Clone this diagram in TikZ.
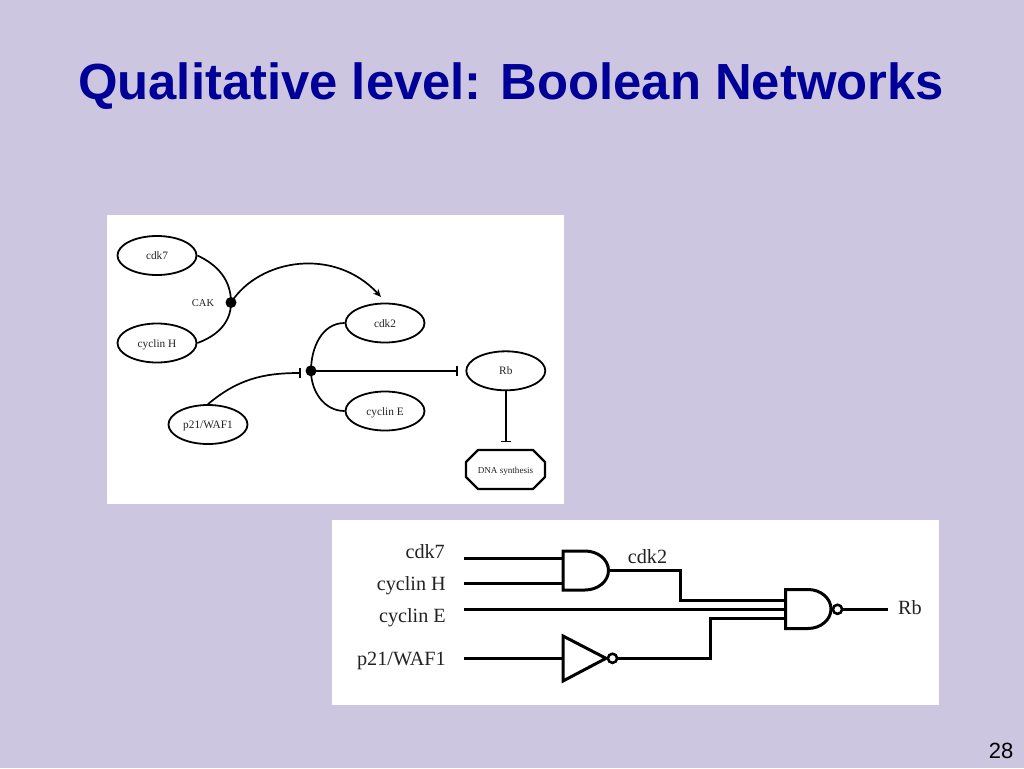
\documentclass[tikz,border=0pt]{standalone}
\usepackage{fontspec}
\setmainfont{Liberation Serif}
\newfontfamily\arialfont{Liberation Sans}
\usetikzlibrary{shapes.geometric,shapes.misc,arrows.meta}
\definecolor{slidebg}{HTML}{CCC6E0}
\definecolor{titleblue}{HTML}{000099}
\definecolor{inkgrey}{HTML}{222222}
\tikzset{
  x=1pt,y=-1pt,
  panel/.style={fill=white,draw=none},
  species/.style={ellipse,draw=black,line width=1.8pt,fill=white,minimum width=79pt,minimum height=39pt,inner sep=0pt,font=\fontsize{11.3}{12}\selectfont,text=inkgrey,text height=8pt,text depth=0pt},
  dnabox/.style={chamfered rectangle,chamfered rectangle xsep=8pt,chamfered rectangle ysep=8pt,draw=black,line width=2.2pt,fill=white,minimum width=79pt,minimum height=39pt,inner sep=0pt,font=\fontsize{9.1}{10}\selectfont,text=inkgrey,text height=8pt,text depth=0pt},
  junction/.style={circle,fill=black,minimum size=11pt,inner sep=0pt},
  link/.style={draw=black,line width=1.7pt},
  activate/.style={link,-{Stealth[length=8pt,width=7pt]}},
  inhibit/.style={link,-{Bar[width=10pt,line width=1.5pt]}},
  straightinhibit/.style={inhibit,line width=2pt},
  wire/.style={draw=black,line width=3pt},
  gate/.style={draw=black,line width=3pt,fill=white,line join=miter},
  bubble/.style={circle,draw=black,line width=2.4pt,fill=white,minimum size=9pt,inner sep=0pt},
  siglabel/.style={anchor=east,font=\fontsize{20.2}{21}\selectfont,text=inkgrey,inner sep=0pt},
  freelabel/.style={font=\fontsize{20.2}{21}\selectfont,text=inkgrey,inner sep=0pt},
}
\begin{document}
\begin{tikzpicture}
\useasboundingbox (0,0) rectangle (1024,768);
\fill[slidebg] (0,0) rectangle (1024,768);
\node[font=\arialfont\bfseries\fontsize{50.8}{52}\selectfont,text=titleblue,inner sep=0pt] (title) at (511,86) {Qualitative level: Boolean Networks};
\node[font=\arialfont\fontsize{22}{23}\selectfont,text=black,inner sep=0pt] (pagenum) at (1001,751) {28};

% upper panel
\fill[panel] (107,215) rectangle (564,504);
\node[species] (cdk7) at (157,255.5) {cdk7};
\node[species] (cyclinH) at (157,343) {cyclin H};
\node[species] (p21) at (208,424.5) {p21/WAF1};
\node[species] (cdk2) at (385,323) {cdk2};
\node[species] (cyclinE) at (385,411) {cyclin E};
\node[species] (Rb) at (505.8,370.8) {Rb};
\node[dnabox] (dna) at (505.5,469.5) {DNA synthesis};
\node[junction] (jcak) at (231,302.5) {};
\node[junction] (jcdk) at (311,370.8) {};
\node[font=\fontsize{10.5}{11}\selectfont,text=inkgrey,inner sep=0pt] (cak) at (203,303) {CAK};
\coordinate (pbar) at (300.5,373);
\coordinate (rbbar) at (457.5,370.8);
\coordinate (dnabar) at (505.8,442);
\coordinate (cdk2tip) at (381,297);
\path[link] (cdk7.east) to[out=-25,in=90] (jcak.center);
\path[link] (cyclinH.east) to[out=20,in=-90] (jcak.center);
\path[activate] (jcak.center) .. controls (260,258) and (335,247) .. (cdk2tip);
\path[link] (cdk2.west) to[out=180,in=90] (jcdk.center);
\path[link] (cyclinE.west) to[out=180,in=-90] (jcdk.center);
\path[inhibit] (p21.north) to[out=40,in=180] (pbar);
\path[straightinhibit] (jcdk.center) -- (rbbar);
\path[straightinhibit] (Rb.south) -- (dnabar);

% lower panel
\fill[panel] (332,520) rectangle (939,705);
\node[siglabel] (lcdk7) at (445,552) {cdk7};
\node[siglabel] (lcycH) at (446,586) {cyclin H};
\node[siglabel] (lcycE) at (446,618) {cyclin E};
\node[siglabel] (lp21) at (446,661) {p21/WAF1};
\node[freelabel] (lcdk2) at (647.5,557) {cdk2};
\node[freelabel] (lrb) at (910,608) {Rb};

\coordinate (s1) at (464,558.3);
\coordinate (s2) at (464,583.3);
\coordinate (s3) at (464,609.3);
\coordinate (s4) at (464,658.3);
\coordinate (a1) at (563,558.3);
\coordinate (a2) at (563,583.3);
\coordinate (aout) at (608.5,570.3);
\coordinate (n1) at (785,600.3);
\coordinate (n2) at (785,609.3);
\coordinate (n3) at (785,618.3);
\coordinate (i1) at (563,658.3);
\coordinate (iout) at (606,658.3);
\coordinate (nout) at (831,609.3);
\coordinate (rbend) at (888,609.3);
\node[bubble] (ib) at (612.5,658.3) {};
\node[bubble] (nb) at (837.5,609.3) {};

\path[wire] (s1) -- (a1);
\path[wire] (s2) -- (a2);
\path[wire] (s3) -- (n2);
\path[wire] (s4) -- (i1);
\path[wire] (aout) -| (680.3,600.3) -- (n1);
\path[wire] (ib.east) -| (710.3,618.3) -- (n3);
\path[wire] (nb.east) -- (rbend);

\path[gate] (563,551) -- (585,551) arc[start angle=-90,end angle=90,x radius=23.5pt,y radius=-19.5pt] -- (563,590) -- cycle;
\path[gate] (563,636) -- (iout) -- (563,681) -- cycle;
\path[gate] (785.5,589.5) -- (808,589.5) arc[start angle=-90,end angle=90,x radius=23pt,y radius=-19.5pt] -- (785.5,628.5) -- cycle;
\node[bubble] at (ib.center) {};
\node[bubble] at (nb.center) {};
\end{tikzpicture}
\end{document}
